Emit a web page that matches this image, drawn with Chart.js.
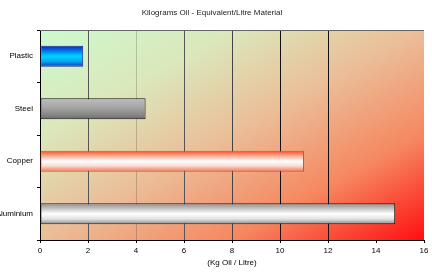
<!DOCTYPE html>
<html>
<head>
<meta charset="utf-8">
<script src="https://cdn.jsdelivr.net/npm/chart.js@4/dist/chart.umd.min.js"></script>
<style>
html,body{margin:0;padding:0;background:#fff;}
#wrap{width:432px;height:272px;}
</style>
</head>
<body>
<div id="wrap"><canvas id="c" width="432" height="272"></canvas></div>
<script>
const categories = ["Plastic", "Steel", "Copper", "Aluminium"];
const values = [1.8, 4.4, 11.0, 14.8];
const xTicks = [0, 2, 4, 6, 8, 10, 12, 14, 16];
const chartTitle = "Kilograms Oil - Equivalent/Litre Material";
const xTitle = "(Kg Oil / Litre)";

const barStops = [
  [[0, "#0a2cae"], [0.2, "#0066e6"], [0.5, "#00d4ff"], [0.75, "#00a6ee"], [1, "#1430b0"]],
  [[0, "#bdbdbd"], [0.4, "#a8a8a8"], [0.8, "#858585"], [1, "#6a6a6a"]],
  [[0, "#ff4a18"], [0.22, "#f7a38a"], [0.5, "#ffffff"], [0.72, "#f9ddd5"], [1, "#f0704c"]],
  [[0, "#8c8c8c"], [0.3, "#cfcfcf"], [0.5, "#ffffff"], [0.75, "#e2e2e2"], [1, "#888888"]]
];
const barFlat = ["#00a0f0", "#a0a0a0", "#f8b0a0", "#d0d0d0"];
const barBorders = ["#1b2a9c", "#111111", "#e0501e", "#202020"];
const gridColors = ["rgba(0,0,0,0)", "#555555", "rgba(0,0,0,0.18)", "#555555", "#444444", "#111111", "#111111", "rgba(0,0,0,0)", "rgba(0,0,0,0)"];

const FONT = "'Liberation Sans', Arial, sans-serif";

function barFill(ctx) {
  const chart = ctx.chart;
  const i = ctx.dataIndex;
  const y = chart.scales && chart.scales.y;
  if (!y || i === undefined) return "#888";
  const c = y.getPixelForValue(i);
  const band = Math.abs(y.getPixelForValue(1) - y.getPixelForValue(0));
  if (!isFinite(c) || !isFinite(band) || band <= 0) return barFlat[i];
  const half = band * 0.4 / 2;
  const g = chart.ctx.createLinearGradient(0, c - half, 0, c + half);
  barStops[i].forEach(s => g.addColorStop(s[0], s[1]));
  return g;
}

const bgPlugin = {
  id: "bgPlugin",
  beforeDraw(chart) {
    const a = chart.chartArea;
    const W = a.right - a.left, H = a.bottom - a.top;
    const k = 2 * W * H / (W * W + H * H);
    const ctx = chart.ctx;
    const g = ctx.createLinearGradient(a.left, a.top, a.left + H * k, a.top + W * k);
    g.addColorStop(0, "#cdf9cf");
    g.addColorStop(0.25, "#dbe8bb");
    g.addColorStop(0.5, "#ebbd98");
    g.addColorStop(0.75, "#f6875f");
    g.addColorStop(1, "#ff0f0f");
    ctx.save();
    ctx.fillStyle = g;
    ctx.fillRect(a.left, a.top, W, H);
    ctx.restore();
  },
  afterDraw(chart) {
    const a = chart.chartArea;
    const ctx = chart.ctx;
    ctx.save();
    ctx.strokeStyle = "#666666";
    ctx.lineWidth = 1;
    ctx.beginPath();
    ctx.moveTo(a.left, a.top + 0.5);
    ctx.lineTo(a.right, a.top + 0.5);
    ctx.stroke();
    ctx.restore();
  }
};

new Chart(document.getElementById("c"), {
  type: "bar",
  data: {
    labels: categories,
    datasets: [{
      data: values,
      backgroundColor: barFill,
      borderColor: barBorders,
      borderWidth: 1,
      borderSkipped: false,
      barPercentage: 0.5,
      categoryPercentage: 0.8
    }]
  },
  options: {
    indexAxis: "y",
    responsive: false,
    animation: false,
    layout: { padding: { left: 0, right: 8, top: 0, bottom: 0 } },
    plugins: {
      legend: { display: false },
      tooltip: { enabled: false },
      title: {
        display: true,
        text: chartTitle,
        color: "#222",
        font: { family: FONT, size: 8, weight: "normal" },
        padding: { top: 8, bottom: 12.4 }
      }
    },
    scales: {
      x: {
        type: "linear",
        min: xTicks[0],
        max: xTicks[xTicks.length - 1],
        afterBuildTicks: (s) => { s.ticks = xTicks.map(v => ({ value: v })); },
        afterFit: (s) => { s.height = 32; },
        ticks: {
          color: "#000",
          font: { family: FONT, size: 8 },
          padding: 3,
          maxRotation: 0,
          autoSkip: false
        },
        grid: {
          color: (c) => gridColors[c.index] || "rgba(0,0,0,0)",
          tickColor: "#000",
          tickLength: 3,
          lineWidth: 1
        },
        border: { display: true, color: "#000", width: 1 },
        title: {
          display: true,
          text: xTitle,
          color: "#000",
          font: { family: FONT, size: 8 },
          padding: { top: 0, bottom: 4 }
        }
      },
      y: {
        afterFit: (s) => { s.width = 40; },
        ticks: {
          color: "#000",
          font: { family: FONT, size: 8 },
          padding: 4
        },
        grid: {
          offset: true,
          drawOnChartArea: false,
          tickColor: "#000",
          tickLength: 3
        },
        border: { display: true, color: "#000", width: 1 }
      }
    }
  },
  plugins: [bgPlugin]
});
</script>
</body>
</html>
